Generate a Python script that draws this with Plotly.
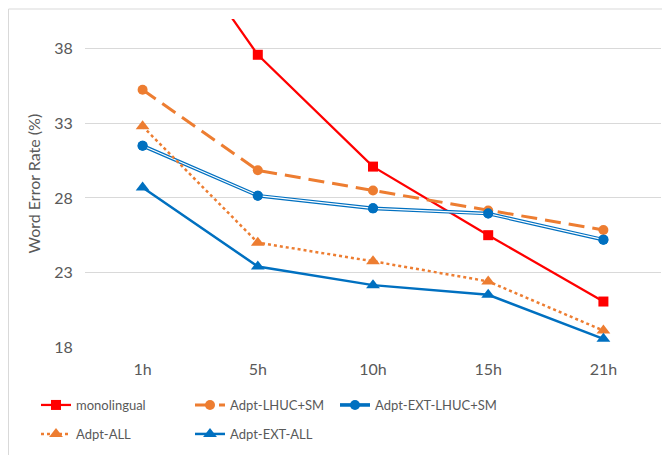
import plotly.graph_objects as go

categories = ["1h", "5h", "10h", "15h", "21h"]
monolingual = [48.6, 37.6, 30.1, 25.5, 21.05]
adpt_lhuc_sm = [35.25, 29.85, 28.5, 27.15, 25.85]
adpt_ext_lhuc_sm = [31.5, 28.15, 27.3, 26.95, 25.2]
adpt_all = [32.8, 25.0, 23.75, 22.4, 19.1]
adpt_ext_all = [28.7, 23.4, 22.15, 21.5, 18.55]
y_ticks = [18, 23, 28, 33, 38]

RED = "#FF0000"
ORANGE = "#ED7D31"
BLUE = "#0070C0"
GRAY = "#595959"
FONT = "Lato"

W, H = 662, 447  # page body has an 8px margin

fig = go.Figure()

# monolingual
fig.add_trace(go.Scatter(x=categories, y=monolingual, name="monolingual",
    mode="lines+markers", line=dict(color=RED, width=2.25),
    marker=dict(symbol="square", size=10, color=RED), legend="legend"))
# Adpt-LHUC+SM
fig.add_trace(go.Scatter(x=categories, y=adpt_lhuc_sm, name="Adpt-LHUC+SM",
    mode="lines+markers", line=dict(color=ORANGE, width=3, dash="16px,8px"),
    marker=dict(symbol="circle", size=10, color=ORANGE), legend="legend"))
# Adpt-EXT-LHUC+SM (double line)
fig.add_trace(go.Scatter(x=categories, y=adpt_ext_lhuc_sm, name="Adpt-EXT-LHUC+SM",
    mode="lines+markers", line=dict(color=BLUE, width=3.6),
    marker=dict(symbol="circle", size=10, color=BLUE), legend="legend3"))
fig.add_trace(go.Scatter(x=categories, y=adpt_ext_lhuc_sm, showlegend=False,
    mode="lines", line=dict(color="white", width=1.2), hoverinfo="skip"))
fig.add_trace(go.Scatter(x=categories, y=adpt_ext_lhuc_sm, showlegend=False,
    mode="markers", marker=dict(symbol="circle", size=10, color=BLUE), hoverinfo="skip"))
# Adpt-ALL
fig.add_trace(go.Scatter(x=categories, y=adpt_all, name="Adpt-ALL",
    mode="lines+markers", line=dict(color=ORANGE, width=2.5, dash="3px,3px"),
    marker=dict(symbol="triangle-up", size=12, color=ORANGE), legend="legend2"))
# Adpt-EXT-ALL
fig.add_trace(go.Scatter(x=categories, y=adpt_ext_all, name="Adpt-EXT-ALL",
    mode="lines+markers", line=dict(color=BLUE, width=2.5),
    marker=dict(symbol="triangle-up", size=12, color=BLUE), legend="legend2"))

legend_common = dict(orientation="h", xref="container", yref="container",
    xanchor="left", yanchor="middle",
    font=dict(family=FONT, size=13, color=GRAY),
    entrywidth=109, entrywidthmode="pixels", bgcolor="rgba(0,0,0,0)",
    traceorder="normal")

L, T = 77, 10.5
PW, PH = 576, 328.2

fig.update_layout(
    width=W, height=H,
    margin=dict(l=L, r=W - L - PW, t=T, b=H - T - PH, pad=0, autoexpand=False),
    paper_bgcolor="white", plot_bgcolor="white",
    font=dict(family=FONT, color=GRAY),
    showlegend=True,
    legend=dict(**legend_common, x=28 / W, y=1 - 397 / H),
    legend2=dict(**legend_common, x=28 / W, y=1 - 426 / H),
    legend3=dict(orientation="h", xref="container", yref="container",
        xanchor="left", yanchor="middle", x=327 / W, y=1 - 397 / H,
        font=dict(family=FONT, size=13, color=GRAY), bgcolor="rgba(0,0,0,0)"),
    xaxis=dict(type="category", categoryorder="array", categoryarray=categories,
        range=[-0.5, 4.5], showgrid=False, zeroline=False, showline=False,
        ticks="outside", ticklen=8, tickcolor="rgba(0,0,0,0)",
        tickfont=dict(family=FONT, size=16, color=GRAY)),
    yaxis=dict(range=[18, 40], tickvals=y_ticks, showgrid=True,
        gridcolor="#D9D9D9", gridwidth=1, zeroline=False, showline=False,
        ticks="outside", ticklen=8, tickcolor="rgba(0,0,0,0)",
        tickfont=dict(family=FONT, size=16, color=GRAY)),
    annotations=[dict(text="Word Error Rate (%)", textangle=-90,
        xref="paper", yref="paper", x=(33.5 - 85) / PW, y=0.497,
        xanchor="center", yanchor="middle", showarrow=False,
        font=dict(family=FONT, size=16, color=GRAY))],
    shapes=[dict(type="rect", xref="paper", yref="paper",
        x0=(0.5 - L) / PW, x1=(700 - L) / PW,
        y0=(T + PH - 480) / PH, y1=(T + PH - 0.5) / PH,
        line=dict(color="#D9D9D9", width=1), fillcolor="rgba(0,0,0,0)", layer="below")],
)

fig.write_html("out.html")
